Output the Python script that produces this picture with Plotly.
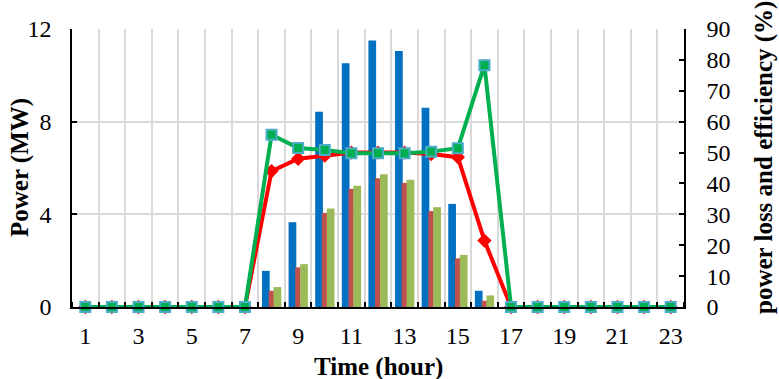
import plotly.graph_objects as go

hours = list(range(1, 24))

# Power series (MW), one value per hour
power_a = [0, 0, 0, 0, 0, 0, 0, 1.56, 3.66, 8.43, 10.52, 11.5, 11.05, 8.6, 4.45, 0.7,
           0, 0, 0, 0, 0, 0, 0]
power_b = [0, 0, 0, 0, 0, 0, 0, 0.70, 1.71, 4.06, 5.10, 5.56, 5.36, 4.14, 2.10, 0.27,
           0, 0, 0, 0, 0, 0, 0]
power_c = [0, 0, 0, 0, 0, 0, 0, 0.86, 1.85, 4.25, 5.23, 5.73, 5.49, 4.31, 2.25, 0.50,
           0, 0, 0, 0, 0, 0, 0]

# Percentage series (%), right axis
pct_red = [0, 0, 0, 0, 0, 0, 0, 44, 48, 49, 50, 50, 50, 49.5, 48.5, 21.5,
           0, 0, 0, 0, 0, 0, 0]
pct_green = [0, 0, 0, 0, 0, 0, 0, 55.8, 51.5, 50.8, 49.8, 49.8, 49.8, 50.3, 51.4, 78.3,
             0, 0, 0, 0, 0, 0, 0]

x_ticks = list(range(1, 24, 2))
y_left_ticks = [0, 4, 8, 12]
y_right_ticks = list(range(0, 91, 10))

FONT = "Liberation Serif, Times New Roman, serif"
GRID = "#D9D9D9"

fig = go.Figure()

fig.add_trace(go.Bar(x=hours, y=power_a, name="Power A", marker_color="#0070C0",
                     marker_line_width=0, offset=-0.36, width=0.29))
fig.add_trace(go.Bar(x=hours, y=power_b, name="Power B", marker_color="#C0504D",
                     marker_line_width=0, offset=-0.11, width=0.2))
fig.add_trace(go.Bar(x=hours, y=power_c, name="Power C", marker_color="#9BBB59",
                     marker_line_width=0, offset=0.075, width=0.29))

fig.add_trace(go.Scatter(x=hours, y=pct_red, name="Ratio 1", yaxis="y2", mode="lines+markers",
                         line=dict(color="#FF0000", width=4),
                         marker=dict(symbol="diamond", size=11, color="#FF0000"),
                         cliponaxis=False))
fig.add_trace(go.Scatter(x=hours, y=pct_green, name="Ratio 2", yaxis="y2", mode="lines+markers",
                         line=dict(color="#00B050", width=4),
                         marker=dict(symbol="square", size=10, color="#00B050",
                                     line=dict(color="#4BACC6", width=2)),
                         cliponaxis=False))

fig.update_layout(
    width=779, height=379,
    margin=dict(l=72, r=95, t=29, b=72),
    paper_bgcolor="white", plot_bgcolor="white",
    barmode="overlay", showlegend=False,
    font=dict(family=FONT, size=24, color="black"),
    xaxis=dict(
        range=[0.5, 23.5], tickmode="array", tickvals=x_ticks,
        ticks="", showgrid=False, zeroline=False,
        showline=True, linecolor="black", linewidth=1.5,
        ticklabelstandoff=6,
        minor=dict(tickmode="array", tickvals=[h + 0.5 for h in range(0, 24)],
                   ticks="inside", ticklen=5, tickcolor="black", tickwidth=1.5,
                   showgrid=True, gridcolor=GRID, gridwidth=1.5),
    ),
    yaxis=dict(
        range=[0, 12], tickmode="array", tickvals=y_left_ticks,
        ticks="inside", ticklen=5, tickcolor="black", tickwidth=1.5,
        showgrid=True, gridcolor=GRID, gridwidth=1.5, zeroline=False,
        showline=True, linecolor="black", linewidth=1.5,
        ticklabelstandoff=14,
    ),
    yaxis2=dict(
        range=[0, 90], tickmode="array", tickvals=y_right_ticks,
        overlaying="y", side="right",
        ticks="inside", ticklen=5, tickcolor="black", tickwidth=1.5,
        showgrid=False, zeroline=False,
        showline=True, linecolor="black", linewidth=1.5,
        ticklabelstandoff=16,
    ),
    annotations=[
        dict(text="<b>Time (hour)</b>", xref="paper", yref="paper", x=0.5, y=0,
             yshift=-60, xanchor="center", yanchor="middle", showarrow=False,
             font=dict(family=FONT, size=25)),
        dict(text="<b>Power (MW)</b>", xref="paper", yref="paper", x=0, y=0.5,
             xshift=-52, xanchor="center", yanchor="middle", textangle=-90, showarrow=False,
             font=dict(family=FONT, size=25)),
        dict(text="<b>power loss and efficiency (%)</b>", xref="paper", yref="paper", x=1, y=0.5,
             xshift=80, yshift=10, xanchor="center", yanchor="middle", textangle=-90,
             showarrow=False, font=dict(family=FONT, size=25)),
    ],
)

fig.write_html("out.html")
